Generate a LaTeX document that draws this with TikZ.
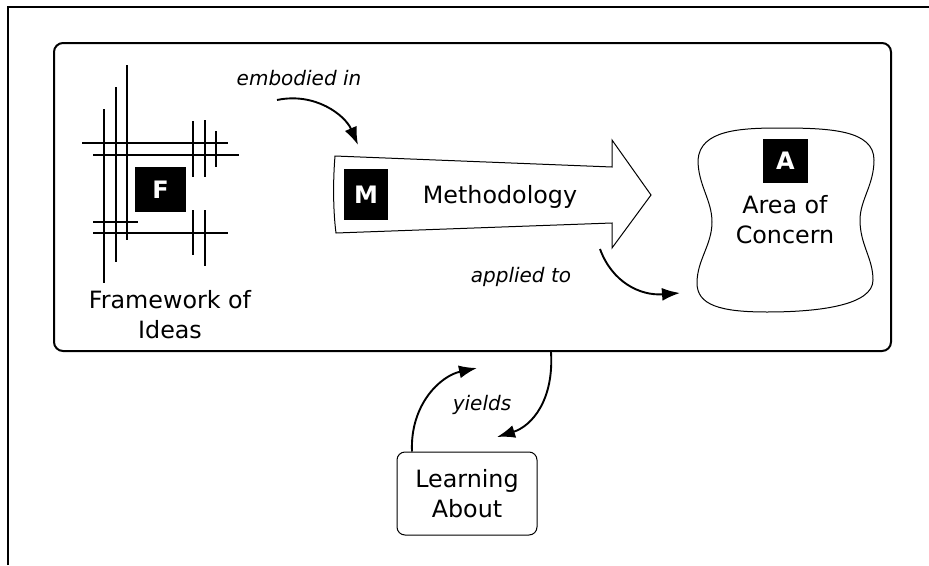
\documentclass[tikz,border=0pt]{standalone}
\usepackage{fontspec}
\setmainfont{DejaVu Sans}
\usetikzlibrary{arrows.meta}
\begin{document}
\begin{tikzpicture}[x=1pt,y=-1pt,
  heavy/.style={line width=2pt},
  gridline/.style={line width=2pt},
  letterbox/.style={fill=black,text=white,inner sep=0pt,font=\bfseries\fontsize{24}{24}\selectfont},
  lbl/.style={font=\fontsize{23.8}{30}\selectfont,align=center,inner sep=0pt},
  itl/.style={font=\itshape\fontsize{20}{24}\selectfont,inner sep=0pt},
  conn/.style={line width=1.9pt,-{Latex[length=18pt,width=13pt]}},
  thin/.style={line width=1pt}
]
\useasboundingbox (0,0) rectangle (929,565);
% outer frame (top and left only)
\draw[heavy] (8,565) -- (8,7) -- (929,7);
% inner rounded box
\node[draw,heavy,rounded corners=9pt,minimum width=837pt,minimum height=308pt,inner sep=0pt] (frame) at (472.5,197) {};

% framework grid
\draw[gridline] (127,65) -- (127,240);
\draw[gridline] (116,87) -- (116,262);
\draw[gridline] (104,109) -- (104,283);
\draw[gridline] (193,121) -- (193,177);
\draw[gridline] (205,120) -- (205,177);
\draw[gridline] (216,131) -- (216,167);
\draw[gridline] (193,210) -- (193,255);
\draw[gridline] (205,210) -- (205,266);
\draw[gridline] (82,143) -- (228,143);
\draw[gridline] (93,155) -- (239,155);
\draw[gridline] (93,222) -- (138,222);
\draw[gridline] (93,233) -- (228,233);
\node[letterbox,minimum width=51pt,minimum height=45pt] (F) at (160.5,189.5) {F};
\node[lbl,anchor=north] (fwlabel) at (170,290) {Framework of\\Ideas};

% methodology arrow
\draw[thin,line join=miter] (335,156) -- (612,167) -- (612,140) -- (651,195) -- (612,248) -- (612,223) -- (336,233) .. controls (333,210) and (333,180) .. (335,156) -- cycle;
\node[letterbox,minimum width=44pt,minimum height=51pt] (M) at (366,194.5) {M};
\node[lbl,anchor=base] (meth) at (500,203) {Methodology};

% area of concern
\draw[thin] (698,160) .. controls (700,130) and (740,128) .. (780,128)
  .. controls (830,128) and (874,130) .. (874,160)
  .. controls (874,185) and (860,200) .. (860,220)
  .. controls (860,245) and (873,258) .. (873,280)
  .. controls (873,305) and (820,312) .. (767,312)
  .. controls (720,312) and (697,305) .. (697,283)
  .. controls (697,260) and (712,245) .. (712,222)
  .. controls (712,200) and (698,185) .. (698,160) -- cycle;
\node[letterbox,minimum width=45pt,minimum height=44pt] (A) at (785.5,161) {A};
\node[lbl,anchor=north] (area) at (785,195) {Area of\\Concern};

% labels
\node[itl,anchor=base] (emb) at (299,85) {embodied in};
\node[itl,anchor=base] (app) at (521,282) {applied to};
\node[itl,anchor=base] (yld) at (482,410) {yields};

% connector end points
\coordinate (embS) at (277,100);
\coordinate (embE) at (358,145);
\coordinate (appS) at (600,249);
\coordinate (appE) at (680,293);
\draw[conn] (embS) .. controls (315,92) and (345,115) .. (embE);
\draw[conn] (appS) .. controls (612,282) and (640,296) .. (appE);

% learning about
\node[draw,thin,rounded corners=8pt,minimum width=140pt,minimum height=83pt,lbl,inner sep=0pt] (learn) at (467,493.5) {Learning\\About};
\coordinate (yE1) at (477,368);
\coordinate (yS2) at (551,352);
\coordinate (yE2) at (497,437);
\draw[conn] (learn.north -| 412,0) .. controls (410,405) and (440,376) .. (yE1);
\draw[conn] (yS2) .. controls (554,400) and (532,426) .. (yE2);
\end{tikzpicture}
\end{document}
